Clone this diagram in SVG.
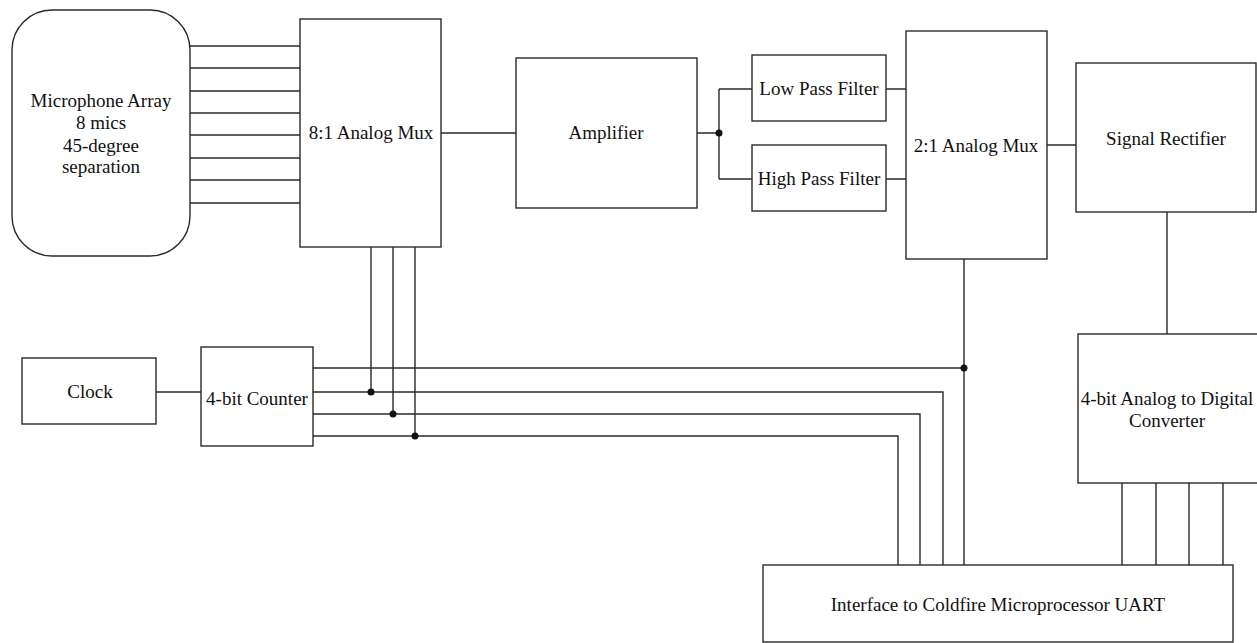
<svg xmlns="http://www.w3.org/2000/svg" width="1257" height="643" viewBox="0 0 1257 643">
<style>
.box{fill:#fff;stroke:#2a2a2a;stroke-width:1.4}
.w{fill:none;stroke:#2a2a2a;stroke-width:1.4}
.dot{fill:#111}
text{font-family:"Liberation Serif","Times New Roman",serif;font-size:19px;fill:#111;text-anchor:middle}
</style>
<rect width="1257" height="643" fill="#fff"/>
<g id="connectors">
<path class="w" d="M190 46H300M190 68H300M190 91H300M190 113H300M190 135H300M190 158H300M190 180H300M190 203H300"/>
<path class="w" d="M441 133H516M697 133H719M719 89V179M719 89H752M719 179H752M886 89H906M886 179H906M1047 145H1076M1167 212V334"/>
<path class="w" d="M964 259V565M1122 483V565M1156 483V565M1189 483V565M1223 483V565"/>
<path class="w" d="M156 392H201M313 368H964M313 392H943V565M313 414H920V565M313 436H898V565"/>
<path class="w" d="M371 247V392M393 247V414M415 247V436"/>
<circle class="dot" cx="719" cy="133" r="3.5"/>
<circle class="dot" cx="964" cy="368" r="3.5"/>
<circle class="dot" cx="371" cy="392" r="3.5"/>
<circle class="dot" cx="393" cy="414" r="3.5"/>
<circle class="dot" cx="415" cy="436" r="3.5"/>
</g>
<g id="mic"><rect class="box" x="12" y="10" width="178" height="246" rx="40" ry="40"/>
<text x="101" y="107">Microphone Array</text><text x="101" y="129">8 mics</text><text x="101" y="152">45-degree</text><text x="101" y="173">separation</text></g>
<g id="mux8"><rect class="box" x="300" y="19" width="141" height="228"/><text x="371" y="139">8:1 Analog Mux</text></g>
<g id="amp"><rect class="box" x="516" y="58" width="181" height="150"/><text x="606" y="139">Amplifier</text></g>
<g id="lpf"><rect class="box" x="752" y="55" width="134" height="66"/><text x="819" y="95">Low Pass Filter</text></g>
<g id="hpf"><rect class="box" x="752" y="145" width="134" height="66"/><text x="819" y="185">High Pass Filter</text></g>
<g id="mux2"><rect class="box" x="906" y="31" width="141" height="228"/><text x="976" y="152">2:1 Analog Mux</text></g>
<g id="rect"><rect class="box" x="1076" y="63" width="180" height="149"/><text x="1166" y="145">Signal Rectifier</text></g>
<g id="adc"><rect class="box" x="1078" y="334" width="182" height="149"/><text x="1167" y="405">4-bit Analog to Digital</text><text x="1167" y="427">Converter</text></g>
<g id="clock"><rect class="box" x="22" y="358" width="134" height="66"/><text x="90" y="398">Clock</text></g>
<g id="counter"><rect class="box" x="201" y="347" width="112" height="99"/><text x="257" y="405">4-bit Counter</text></g>
<g id="uart"><rect class="box" x="763" y="565" width="470" height="77"/><text x="998" y="611">Interface to Coldfire Microprocessor UART</text></g>
</svg>
